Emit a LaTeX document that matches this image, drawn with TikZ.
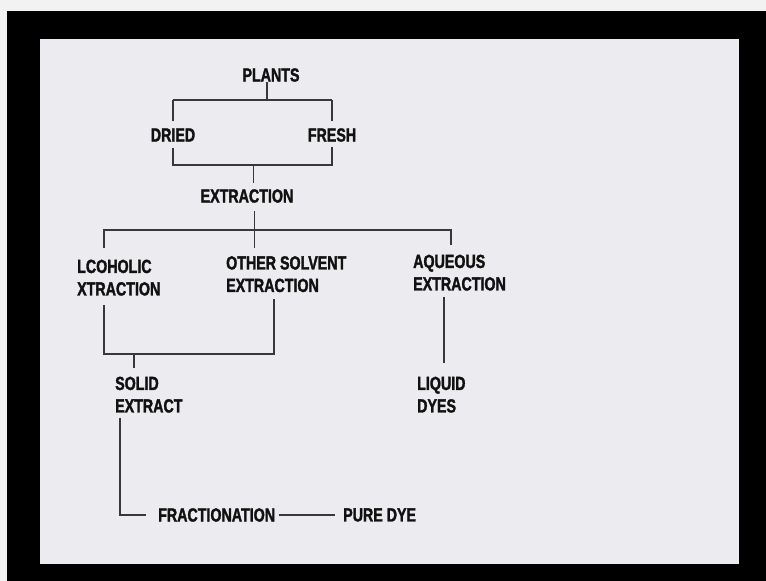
\documentclass[tikz,border=0pt]{standalone}
\usepackage{fontspec}
\newfontfamily\lblfam[FakeStretch=0.75,UprightFeatures={FakeBold=1.6}]{Liberation Sans Bold}
\newcommand\lblfont{\lblfam\fontsize{19pt}{22.5pt}\selectfont}
\definecolor{slide}{HTML}{ECECF0}
\definecolor{strip}{HTML}{F2F2F2}
\definecolor{txt}{HTML}{111111}
\definecolor{ln}{HTML}{383838}
\begin{document}
\begin{tikzpicture}[x=1pt,y=-1pt,
  lbl/.style={font=\lblfont, text=txt, inner sep=0pt, align=left},
  conn/.style={draw=ln, line width=1.8pt},
  thickbar/.style={draw=ln, line width=2.8pt}]
\useasboundingbox (0,0) rectangle (766,581);
\fill[strip] (0,0) rectangle (766,581);
\fill[black] (7,11) rectangle (766,581);
\fill[slide] (40,38.5) rectangle (739,564);

\node[lbl] (plants) at (271,75) {PLANTS};
\node[lbl] (dried) at (173,135) {DRIED};
\node[lbl] (fresh) at (332,135) {FRESH};
\node[lbl] (extraction) at (247,196) {EXTRACTION};
\node[lbl,anchor=north west] (alc) at (77,259.5) {LCOHOLIC\\XTRACTION};
\node[lbl,anchor=north west] (other) at (226,256) {OTHER SOLVENT\\EXTRACTION};
\node[lbl,anchor=north west] (aq) at (413,254.5) {AQUEOUS\\EXTRACTION};
\node[lbl,anchor=north west] (solid) at (115,376.5) {SOLID\\EXTRACT};
\node[lbl,anchor=north west] (liquid) at (417,376.5) {LIQUID\\DYES};
\node[lbl,anchor=west] (frac) at (158,515) {FRACTIONATION};
\node[lbl,anchor=west] (pure) at (343,515) {PURE DYE};

\coordinate (j1) at (267,100);
\coordinate (j2) at (253.5,165);
\coordinate (j3) at (254.5,230);
\coordinate (j4) at (134,354);
\coordinate (xa) at (104,0);
\coordinate (xo) at (274,0);
\coordinate (xqt) at (451,0);
\coordinate (xq) at (444,0);
\coordinate (xs) at (120,0);

\draw[conn] (plants.south -| j1) -- (j1);
\draw[thickbar] (dried.north |- j1) -- (fresh.north |- j1);
\draw[conn, shorten <=7pt] (dried.north) -- (dried.north |- j1);
\draw[conn, shorten <=7pt] (fresh.north) -- (fresh.north |- j1);

\draw[conn, shorten <=6pt] (dried.south) |- (j2);
\draw[conn, shorten <=5pt] (fresh.south) |- (j2);
\draw[conn, shorten >=6pt] (j2) -- (j2 |- extraction.north);

\draw[conn, shorten <=8pt, shorten >=8pt] (extraction.south -| j3) -- (j3 |- other.north);
\draw[conn, shorten <=12pt] (alc.north -| xa) |- (j3);
\draw[conn, shorten <=10pt] (aq.north -| xqt) |- (j3);

\draw[conn, shorten <=9pt] (alc.south -| xa) |- (j4);
\draw[conn, shorten <=7pt] (other.south -| xo) |- (j4);
\draw[conn, shorten >=9pt] (j4) -- (j4 |- solid.north);

\draw[conn, shorten <=6pt, shorten >=14pt] (aq.south -| xq) -- (xq |- liquid.north);

\draw[conn, shorten <=5pt, shorten >=12pt] (solid.south -| xs) |- (frac.west);
\draw[conn, shorten <=4pt, shorten >=8pt] (frac.east) -- (pure.west);
\end{tikzpicture}
\end{document}
